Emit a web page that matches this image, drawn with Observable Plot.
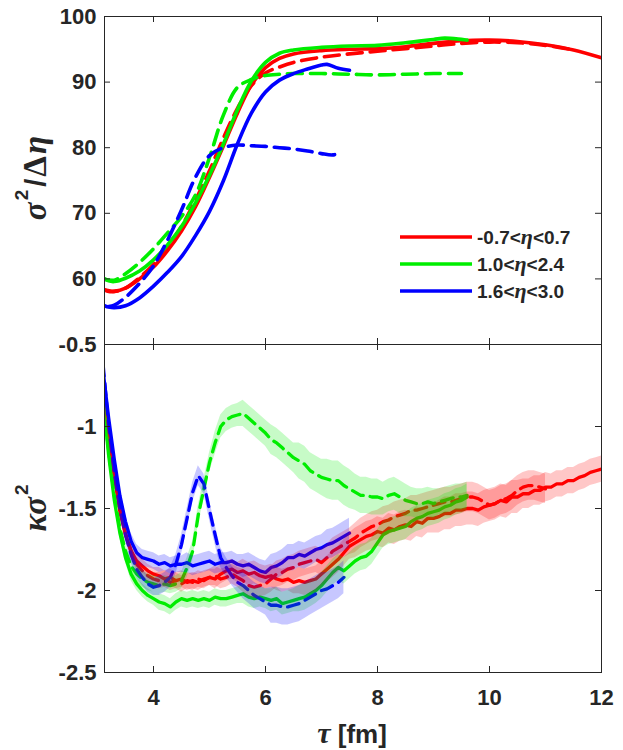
<!DOCTYPE html>
<html>
<head>
<meta charset="utf-8">
<script src="https://cdn.jsdelivr.net/npm/d3@7"></script>
<script src="https://cdn.jsdelivr.net/npm/@observablehq/plot@0.6"></script>
<style>
html,body{margin:0;padding:0;background:#fff;}
#wrap{position:relative;width:623px;height:750px;overflow:hidden;background:#fff;}
#wrap > div, #wrap > svg{position:absolute;left:0;}
</style>
</head>
<body>
<div id="wrap">
  <div id="top" style="top:0"></div>
  <div id="bot" style="top:330px"></div>
  <svg id="ov" width="623" height="750" style="top:0;pointer-events:none"></svg>
</div>
<script>
// ---------------- DATA ----------------
const seriesLabels = ["-0.7<η<0.7", "1.0<η<2.4", "1.6<η<3.0"];
const xTicks = [4, 6, 8, 10, 12];
const topYTicks = [60, 70, 80, 90, 100];
const botYTicks = [-2.5, -2, -1.5, -1, -0.5];

// top panel: sigma^2 / delta eta
const topRedSolidTau = [3.1,3.2,3.3,3.5,3.75,4.0,4.25,4.5,4.75,5.0,5.25,5.5,5.75,6.0,6.25,6.5,7.0,7.5,8.0,8.5,9.0,9.5,10.0,10.5,11.0,11.5,12.0];
const topRedSolid    = [58.4,58.1,58.1,58.6,60.0,61.8,64.3,67.3,71.0,75.5,80.3,85.3,89.6,92.2,93.6,94.3,94.8,95.0,95.1,95.4,95.9,96.3,96.4,96.2,95.7,94.9,93.7];
const topRedDashTau  = [3.1,3.3,3.5,3.75,4.0,4.25,4.5,4.75,5.0,5.25,5.5,5.75,6.0,6.25,6.5,7.0,7.5,8.0,8.5,9.0,9.5,10.0,10.5,11.0,11.5];
const topRedDash     = [58.4,58.1,58.6,60.2,62.2,64.8,68.0,72.0,76.5,81.5,86.0,89.5,91.4,92.3,93.0,93.8,94.3,94.7,95.1,95.5,95.9,96.1,96.0,95.6,94.9];
const topGreenSolidTau = [3.1,3.2,3.3,3.5,3.75,4.0,4.25,4.5,4.75,5.0,5.25,5.5,5.75,6.0,6.25,6.5,7.0,7.5,8.0,8.5,9.0,9.2,9.6];
const topGreenSolid    = [60.2,59.7,59.6,60.1,61.2,62.9,65.2,68.0,71.6,75.8,80.6,85.8,90.2,93.0,94.4,94.9,95.3,95.5,95.6,96.0,96.5,96.7,96.4];
const topGreenDashTau  = [3.1,3.3,3.5,3.75,4.0,4.25,4.5,4.75,5.0,5.25,5.5,5.75,6.0,6.25,6.5,7.0,7.5,8.0,8.5,9.0,9.5];
const topGreenDash     = [60.0,59.8,60.8,62.5,64.6,67.0,69.5,72.8,78.5,85.0,89.2,90.4,91.0,91.2,91.3,91.3,91.2,91.1,91.2,91.3,91.3];
const topBlueSolidTau  = [3.1,3.2,3.3,3.5,3.75,4.0,4.25,4.5,4.75,5.0,5.25,5.5,5.75,6.0,6.25,6.5,6.75,7.0,7.1,7.3,7.5];
const topBlueSolid     = [56.0,55.7,55.6,55.9,57.1,58.9,61.0,63.4,66.6,70.3,75.0,80.6,85.3,88.5,90.3,91.3,92.0,92.6,92.7,92.1,91.8];
const topBlueDashTau   = [3.2,3.3,3.5,3.75,4.0,4.25,4.5,4.75,5.0,5.25,5.5,5.75,6.0,6.25,6.5,6.75,7.0,7.2,7.35];
const topBlueDash      = [55.8,56.0,57.2,59.3,62.0,65.9,70.5,75.5,78.8,80.0,80.4,80.3,80.2,80.0,79.8,79.5,79.1,78.9,79.2];

// bottom panel: kappa sigma^2, sampled every 0.1 fm starting at tau = 3.1
const botTauStart = 3.1, botTauStep = 0.1;
const botRedSolid = [-0.80,-1.05,-1.30,-1.52,-1.66,-1.76,-1.82,-1.85,-1.88,-1.90,
  -1.91,-1.93,-1.92,-1.94,-1.93,-1.95,-1.94,-1.95,-1.93,-1.92,
  -1.93,-1.90,-1.88,-1.87,-1.89,-1.88,-1.90,-1.89,-1.91,-1.92,
  -1.91,-1.93,-1.94,-1.93,-1.95,-1.94,-1.95,-1.94,-1.93,-1.90,
  -1.87,-1.84,-1.81,-1.77,-1.73,-1.71,-1.69,-1.67,-1.66,-1.64,
  -1.65,-1.62,-1.63,-1.61,-1.60,-1.61,-1.58,-1.59,-1.56,-1.56,
  -1.55,-1.53,-1.53,-1.51,-1.51,-1.50,-1.50,-1.51,-1.49,-1.48,
  -1.47,-1.45,-1.46,-1.43,-1.43,-1.41,-1.41,-1.39,-1.39,-1.37,
  -1.37,-1.35,-1.35,-1.33,-1.33,-1.31,-1.30,-1.28,-1.27,-1.26];
const botRedDash = [-0.80,-1.05,-1.30,-1.50,-1.65,-1.76,-1.84,-1.88,-1.91,-1.93,
  -1.94,-1.93,-1.95,-1.94,-1.96,-1.94,-1.95,-1.93,-1.94,-1.92,
  -1.91,-1.93,-1.92,-1.90,-1.92,-1.94,-1.97,-1.98,-1.97,-1.96,
  -1.93,-1.90,-1.89,-1.87,-1.86,-1.84,-1.83,-1.82,-1.81,-1.83,
  -1.80,-1.76,-1.74,-1.72,-1.70,-1.68,-1.65,-1.63,-1.61,-1.60,
  -1.58,-1.57,-1.55,-1.54,-1.53,-1.51,-1.51,-1.50,-1.49,-1.48,
  -1.47,-1.46,-1.46,-1.45,-1.44,-1.43,-1.43,-1.44,-1.46,-1.48,
  -1.47,-1.45,-1.44,-1.42,-1.39,-1.37,-1.36,-1.36,-1.37,-1.38];
const botGreenSolid = [-0.84,-1.18,-1.45,-1.65,-1.80,-1.90,-1.96,-2.00,-2.03,-2.05,
  -2.07,-2.08,-2.10,-2.07,-2.05,-2.06,-2.05,-2.06,-2.05,-2.06,
  -2.04,-2.05,-2.05,-2.04,-2.03,-2.02,-2.04,-2.05,-2.04,-2.05,
  -2.06,-2.05,-2.08,-2.07,-2.06,-2.05,-2.04,-2.02,-2.00,-1.97,
  -1.93,-1.89,-1.86,-1.88,-1.85,-1.82,-1.80,-1.79,-1.76,-1.71,
  -1.66,-1.64,-1.63,-1.62,-1.61,-1.58,-1.56,-1.55,-1.53,-1.52,
  -1.51,-1.49,-1.48,-1.46,-1.45,-1.43];
const botGreenDash = [-0.84,-1.15,-1.42,-1.62,-1.76,-1.85,-1.90,-1.93,-1.95,-1.96,
  -1.97,-1.96,-1.97,-1.96,-1.94,-1.86,-1.76,-1.54,-1.38,-1.22,
  -1.10,-1.00,-0.96,-0.94,-0.93,-0.92,-0.95,-0.98,-1.01,-1.04,
  -1.08,-1.10,-1.13,-1.16,-1.19,-1.21,-1.23,-1.27,-1.29,-1.31,
  -1.32,-1.33,-1.33,-1.36,-1.38,-1.40,-1.42,-1.42,-1.43,-1.43,
  -1.44,-1.42,-1.41,-1.43,-1.45,-1.46,-1.47,-1.47,-1.46,-1.47,
  -1.46,-1.45,-1.44,-1.43,-1.43,-1.42];
const botBlueSolid = [-0.66,-0.95,-1.20,-1.42,-1.58,-1.70,-1.77,-1.80,-1.81,-1.82,
  -1.84,-1.83,-1.85,-1.84,-1.84,-1.83,-1.85,-1.84,-1.83,-1.82,
  -1.84,-1.83,-1.83,-1.82,-1.84,-1.85,-1.84,-1.86,-1.88,-1.89,
  -1.86,-1.85,-1.83,-1.80,-1.80,-1.78,-1.79,-1.77,-1.75,-1.74,
  -1.72,-1.71,-1.69,-1.67,-1.65];
const botBlueDash = [-0.62,-1.00,-1.28,-1.50,-1.66,-1.78,-1.87,-1.92,-1.96,-1.98,
  -1.97,-1.95,-1.92,-1.84,-1.72,-1.56,-1.40,-1.30,-1.35,-1.51,
  -1.66,-1.80,-1.86,-1.91,-1.95,-1.97,-2.00,-2.03,-2.05,-2.07,
  -2.09,-2.09,-2.10,-2.10,-2.09,-2.08,-2.06,-2.04,-2.02,-2.00,
  -1.99,-1.97,-1.95,-1.92];
// error-band half widths, one value per 0.5 fm block (5 samples each)
const errRedSolid   = [0.03,0.04,0.05,0.05,0.06,0.07,0.07,0.08,0.08,0.09,0.09,0.09,0.10,0.10,0.10,0.09,0.08,0.08];
const errRedDash    = [0.03,0.04,0.05,0.05,0.06,0.07,0.08,0.08,0.08,0.09,0.09,0.09,0.09,0.09,0.09,0.09];
const errGreenSolid = [0.03,0.04,0.05,0.05,0.05,0.06,0.07,0.08,0.08,0.08,0.08,0.08,0.08,0.08];
const errGreenDash  = [0.04,0.05,0.05,0.06,0.07,0.08,0.09,0.11,0.12,0.11,0.10,0.09,0.08,0.08];
const errBlueSolid  = [0.04,0.05,0.05,0.06,0.06,0.07,0.08,0.08,0.09];
const errBlueDash   = [0.04,0.05,0.06,0.06,0.06,0.08,0.11,0.11,0.10];

// ---------------- STYLE ----------------
const RED = "#ff0000", GREEN = "#00ee00", BLUE = "#0000ff";
const AX = "#262626";
const FONT = "'Liberation Sans', Arial, sans-serif";
const GREEK = "'Liberation Serif', 'Times New Roman', serif";
const W = 623, ML = 104, MR = 22;
const xDomain = [3.125, 12];

function topRows(tau, vals) { return tau.map((t, i) => ({tau: t, v: vals[i]})); }
function botRows(vals, err) {
  return vals.map((v, i) => {
    const e = err[Math.floor(i / 5)];
    return {tau: Math.round((botTauStart + botTauStep * i) * 10) / 10, v, lo: v - e, hi: v + e};
  });
}

const topSeries = [
  {rows: topRows(topRedSolidTau, topRedSolid), color: RED, dash: false},
  {rows: topRows(topRedDashTau, topRedDash), color: RED, dash: true},
  {rows: topRows(topGreenSolidTau, topGreenSolid), color: GREEN, dash: false},
  {rows: topRows(topGreenDashTau, topGreenDash), color: GREEN, dash: true},
  {rows: topRows(topBlueSolidTau, topBlueSolid), color: BLUE, dash: false},
  {rows: topRows(topBlueDashTau, topBlueDash), color: BLUE, dash: true}
];
const botSeries = [
  {rows: botRows(botRedSolid, errRedSolid), color: RED, dash: false},
  {rows: botRows(botRedDash, errRedDash), color: RED, dash: true},
  {rows: botRows(botGreenSolid, errGreenSolid), color: GREEN, dash: false},
  {rows: botRows(botGreenDash, errGreenDash), color: GREEN, dash: true},
  {rows: botRows(botBlueSolid, errBlueSolid), color: BLUE, dash: false},
  {rows: botRows(botBlueDash, errBlueDash), color: BLUE, dash: true}
];

function tickMarks(yDom, innerH, yInner, xIn) {
  const L = 6;
  const dyU = L * (yDom[1] - yDom[0]) / innerH;
  const dxU = L * (xDomain[1] - xDomain[0]) / (W - ML - MR);
  const st = {stroke: AX, strokeWidth: 1};
  return [
    Plot.ruleX(xIn, {x: d => d, y1: yDom[1], y2: yDom[1] - dyU, ...st}),
    Plot.ruleX(xIn, {x: d => d, y1: yDom[0], y2: yDom[0] + dyU, ...st}),
    Plot.ruleY(yInner, {y: d => d, x1: xDomain[0], x2: xDomain[0] + dxU, ...st}),
    Plot.ruleY(yInner, {y: d => d, x1: xDomain[1], x2: xDomain[1] - dxU, ...st})
  ];
}

const topDom = [50, 100];
const topPlot = Plot.plot({
  width: W, height: 344, marginLeft: ML, marginRight: MR, marginTop: 16, marginBottom: 0,
  x: {domain: xDomain, axis: null},
  y: {domain: topDom, axis: null, label: null},
  style: {background: "transparent", fontFamily: FONT, fontWeight: "bold", color: AX, overflow: "visible"},
  marks: [
    ...topSeries.map(s => Plot.line(s.rows, {
      x: "tau", y: "v", stroke: s.color, strokeWidth: 3.6,
      strokeDasharray: s.dash ? "15,8" : "none", curve: "catmull-rom", clip: true
    })),
    Plot.frame({stroke: AX, strokeWidth: 1}),
    ...tickMarks(topDom, 328, [60, 70, 80, 90], [4, 6, 8, 10]),
    Plot.axisY({ticks: topYTicks, anchor: "left", tickSize: 0, tickPadding: 8, fontSize: 22,
      fontWeight: "bold", tickFormat: d => String(d), label: null})
  ]
});
document.getElementById("top").appendChild(topPlot);

const botDom = [-2.5, -0.5];
const botPlot = Plot.plot({
  width: W, height: 420, marginLeft: ML, marginRight: MR, marginTop: 14, marginBottom: 78,
  x: {domain: xDomain, axis: null, label: null},
  y: {domain: botDom, axis: null, label: null},
  style: {background: "transparent", fontFamily: FONT, fontWeight: "bold", color: AX, overflow: "visible"},
  marks: [
    ...botSeries.map(s => Plot.line(s.rows, {
      x: "tau", y: "v", stroke: s.color, strokeWidth: 3.3,
      strokeDasharray: s.dash ? "12,7" : "none", clip: true
    })),
    ...botSeries.map(s => Plot.areaY(s.rows, {
      x: "tau", y1: "lo", y2: "hi", fill: s.color, fillOpacity: 0.22, clip: true
    })),
    Plot.frame({stroke: AX, strokeWidth: 1}),
    ...tickMarks(botDom, 328, [-2, -1.5, -1], [4, 6, 8, 10]),
    Plot.axisY({ticks: botYTicks, anchor: "left", tickSize: 0, tickPadding: 8, fontSize: 22,
      fontWeight: "bold", tickFormat: d => String(d), label: null}),
    Plot.axisX({ticks: xTicks, anchor: "bottom", tickSize: 0, tickPadding: 17, fontSize: 22,
      fontWeight: "bold", tickFormat: d => String(d), label: null})
  ]
});
document.getElementById("bot").appendChild(botPlot);

// ---------------- OVERLAY: titles & legend ----------------
const ov = d3.select("#ov");
function greek(sel, ch, italic) {
  const t = sel.append("tspan").attr("font-family", GREEK).text(ch);
  if (italic) t.attr("font-style", "italic");
  return t;
}
// top y title
const t1 = ov.append("text").attr("transform", "translate(46,178) rotate(-90)")
  .attr("text-anchor", "middle").attr("font-size", 33).attr("font-weight", "bold")
  .attr("font-family", FONT).attr("fill", AX);
greek(t1, "σ", true);
t1.append("tspan").attr("font-size", 19).attr("dy", -18).attr("dx", 2).text("2");
t1.append("tspan").attr("dy", 18).attr("dx", 3).attr("font-size", 29).text("/");
greek(t1, "Δ", false).attr("dx", 2);
greek(t1, "η", true).attr("dx", 2);
// bottom y title
const t2 = ov.append("text").attr("transform", "translate(46,508) rotate(-90)")
  .attr("text-anchor", "middle").attr("font-size", 33).attr("font-weight", "bold")
  .attr("font-family", FONT).attr("fill", AX);
greek(t2, "κ", true);
greek(t2, "σ", true);
t2.append("tspan").attr("font-size", 19).attr("dy", -18).attr("dx", 2).text("2");
// x title
const t3 = ov.append("text").attr("x", 352).attr("y", 743)
  .attr("text-anchor", "middle").attr("font-size", 26).attr("font-weight", "bold")
  .attr("font-family", FONT).attr("fill", AX);
greek(t3, "τ", true).attr("font-size", 30);
t3.append("tspan").text(" [fm]");

// legend
const legColors = [RED, GREEN, BLUE];
const legY = [237, 264, 291];
seriesLabels.forEach((lab, i) => {
  ov.append("line").attr("x1", 400).attr("x2", 472).attr("y1", legY[i]).attr("y2", legY[i])
    .attr("stroke", legColors[i]).attr("stroke-width", 3.6);
  const tx = ov.append("text").attr("x", 477).attr("y", legY[i] + 7)
    .attr("font-size", 19).attr("font-weight", "bold").attr("font-family", FONT).attr("fill", AX);
  const parts = lab.split("η");
  tx.append("tspan").text(parts[0]);
  greek(tx, "η", true).attr("font-size", 22);
  tx.append("tspan").text(parts[1]);
});
</script>
</body>
</html>
